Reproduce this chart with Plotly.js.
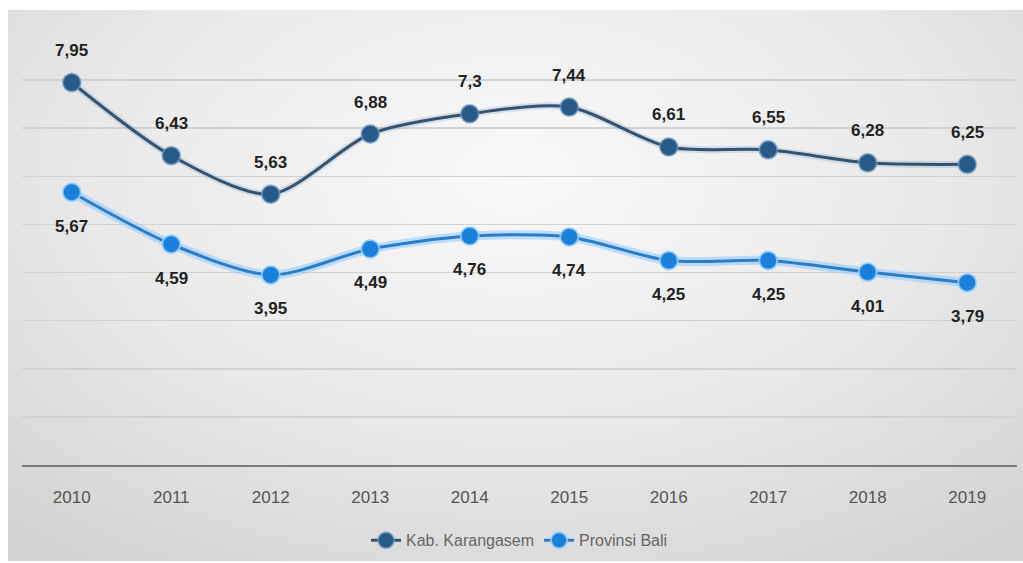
<!DOCTYPE html>
<html>
<head>
<meta charset="utf-8">
<script src="https://cdn.plot.ly/plotly-3.0.1.min.js"></script>
<style>
  html, body { margin: 0; padding: 0; background: #ffffff; }
  #bg { position: absolute; left: 8px; top: 10px; width: 1015px; height: 551px;
        background: radial-gradient(ellipse 75% 85% at 50% 30%, #f9f9f9 0%, #e9e9e9 55%, #d3d3d3 100%); }
  #chart { position: absolute; left: 0; top: 0; width: 1023px; height: 563px; }
</style>
</head>
<body>
<div id="bg"></div>
<div id="chart"></div>
<script>
const years = ['2010','2011','2012','2013','2014','2015','2016','2017','2018','2019'];
const karangasem = [7.95, 6.43, 5.63, 6.88, 7.3, 7.44, 6.61, 6.55, 6.28, 6.25];
const bali = [5.67, 4.59, 3.95, 4.49, 4.76, 4.74, 4.25, 4.25, 4.01, 3.79];
const seriesNames = ['Kab. Karangasem', 'Provinsi Bali'];

const fmt = v => String(v).replace('.', ',');

const darkLine = '#33536f', darkMarker = '#285a87';
const brightLine = '#2a7dc6', brightMarker = '#1b80d9';
const narrow = 'Liberation Sans Narrow, Liberation Sans, sans-serif';

const traces = [
  { x: years, y: bali, mode: 'lines', line: {color: 'rgba(140,200,255,0.55)', width: 9, shape: 'spline', smoothing: 0.8},
    showlegend: false, hoverinfo: 'skip' },
  { x: years, y: karangasem, mode: 'lines', line: {color: 'rgba(150,180,210,0.35)', width: 7, shape: 'spline', smoothing: 0.8},
    showlegend: false, hoverinfo: 'skip' },
  { x: years, y: karangasem, name: seriesNames[0], mode: 'lines+markers',
    line: {color: darkLine, width: 3, shape: 'spline', smoothing: 0.8},
    marker: {color: darkMarker, size: 18, line: {color: 'rgba(120,160,200,0.6)', width: 2}} },
  { x: years, y: bali, name: seriesNames[1], mode: 'lines+markers',
    line: {color: brightLine, width: 3, shape: 'spline', smoothing: 0.8},
    marker: {color: brightMarker, size: 18, line: {color: 'rgba(150,210,255,0.8)', width: 2}} }
];

const labelFont = {family: narrow, size: 17, color: '#222222'};
const annotations = [];
years.forEach((yr, i) => {
  annotations.push({xref: 'x', yref: 'y', x: i, y: karangasem[i], text: '<b>' + fmt(karangasem[i]) + '</b>',
    showarrow: false, yshift: 32, font: labelFont});
  annotations.push({xref: 'x', yref: 'y', x: i, y: bali[i], text: '<b>' + fmt(bali[i]) + '</b>',
    showarrow: false, yshift: -34, font: labelFont});
});

const layout = {
  width: 1023, height: 563,
  paper_bgcolor: 'rgba(0,0,0,0)', plot_bgcolor: 'rgba(0,0,0,0)',
  margin: {l: 22, r: 6, t: 32, b: 96},
  xaxis: {
    type: 'category', range: [-0.5, 9.5], showgrid: false, zeroline: false,
    showline: true, linecolor: '#7a7a7a', linewidth: 2,
    ticks: '', ticklabelstandoff: 16,
    tickfont: {family: narrow, size: 17, color: '#555555'}
  },
  yaxis: {
    range: [0, 9], dtick: 1, showticklabels: false, zeroline: false,
    showgrid: true, gridcolor: '#d2d2d2', gridwidth: 1.5, showline: false
  },
  showlegend: true,
  legend: {orientation: 'h', x: 0.5, xanchor: 'center', y: -0.174, yanchor: 'middle',
    font: {family: narrow, size: 16, color: '#666666'},
    bgcolor: 'rgba(0,0,0,0)'},
  annotations: annotations,
  hovermode: false
};

Plotly.newPlot('chart', traces, layout, {displayModeBar: false, staticPlot: true});
</script>
</body>
</html>
